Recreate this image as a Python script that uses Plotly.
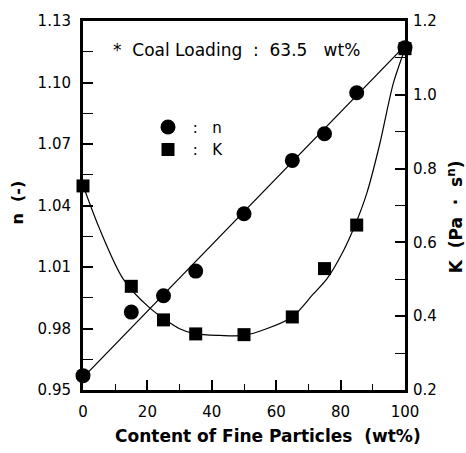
import plotly.graph_objects as go

# ---- data ----
fine_content = [0, 15, 25, 35, 50, 65, 75, 85, 100]
n_values = [0.957, 0.988, 0.996, 1.008, 1.036, 1.062, 1.075, 1.095, 1.117]
K_values = [0.753, 0.481, 0.390, 0.352, 0.350, 0.398, 0.529, 0.647, 1.125]

# fitted lines
n_fit_x = [0, 100]
n_fit = [0.956, 1.118]
K_fit_x = [0, 5, 12.4, 20.8, 30, 35, 42.5, 50, 57, 65, 71.4, 75.8, 80.7, 84.5, 88.2, 92.2, 96.3, 100]
K_fit = [0.755, 0.64, 0.502, 0.422, 0.366, 0.352, 0.348, 0.348, 0.366, 0.398, 0.459, 0.502,
         0.574, 0.647, 0.735, 0.868, 1.029, 1.125]

x_ticks = [0, 20, 40, 60, 80, 100]
n_ticks = [0.95, 0.98, 1.01, 1.04, 1.07, 1.10, 1.13]
K_ticks = [0.2, 0.4, 0.6, 0.8, 1.0, 1.2]

FONT = "DejaVu Sans"
NB = "\u00a0"

fig = go.Figure()
fig.add_trace(go.Scatter(x=n_fit_x, y=n_fit, mode="lines", line=dict(color="black", width=1.2),
                         showlegend=False, hoverinfo="skip"))
fig.add_trace(go.Scatter(x=K_fit_x, y=K_fit, mode="lines", line=dict(color="black", width=1.2, shape="spline", smoothing=0.8),
                         yaxis="y2", showlegend=False, hoverinfo="skip"))
fig.add_trace(go.Scatter(x=fine_content, y=n_values, mode="markers", name=NB + ":" + NB * 3 + "n",
                         marker=dict(symbol="circle", size=15, color="black"), cliponaxis=False))
fig.add_trace(go.Scatter(x=fine_content, y=K_values, mode="markers", name=NB + ":" + NB * 3 + "K",
                         marker=dict(symbol="square", size=13, color="black"), yaxis="y2", cliponaxis=False))

tickfont = dict(family=FONT, size=15, color="black")
fig.update_layout(
    width=466, height=453,
    margin=dict(l=83, r=61, t=16, b=63),
    paper_bgcolor="white", plot_bgcolor="white",
    font=dict(family=FONT, color="black"),
    xaxis=dict(range=[0, 100], tickvals=x_ticks, ticks="inside", ticklen=10, tickwidth=1.5, tickcolor="black",
               minor=dict(dtick=10, tick0=0, ticks="inside", ticklen=6, tickwidth=1.2, tickcolor="black"),
               showline=True, linewidth=3, linecolor="black", mirror=True, showgrid=False, zeroline=False,
               tickfont=tickfont, ticklabelstandoff=6),
    yaxis=dict(range=[0.95, 1.13], tickvals=n_ticks, tickformat=".2f", ticks="inside", ticklen=10, tickwidth=1.5,
               tickcolor="black",
               minor=dict(dtick=0.015, tick0=0.95, ticks="inside", ticklen=10, tickwidth=1.2, tickcolor="black"),
               showline=True, linewidth=3, linecolor="black", showgrid=False, zeroline=False,
               tickfont=tickfont, ticklabelstandoff=6),
    yaxis2=dict(range=[0.2, 1.2], tickvals=K_ticks, tickformat=".1f", overlaying="y", side="right",
                ticks="inside", ticklen=10, tickwidth=1.5, tickcolor="black",
                minor=dict(dtick=0.1, tick0=0.2, ticks="inside", ticklen=10, tickwidth=1.2, tickcolor="black"),
                showline=True, linewidth=3, linecolor="black", showgrid=False, zeroline=False,
                tickfont=tickfont, ticklabelstandoff=2),
    legend=dict(x=(148 - 83) / 322, y=(453 - 63 - 107) / 374, xanchor="left", yanchor="top",
                bgcolor="rgba(0,0,0,0)", font=dict(family=FONT, size=15, color="black"),
                itemsizing="trace", tracegroupgap=0),
    showlegend=True,
)

def px(x):
    return (x - 83) / 322
def py(y):
    return (390 - y) / 374

fig.add_annotation(text="*" + NB * 2 + "Coal Loading" + NB * 2 + ":" + NB * 2 + "63.5" + NB * 3 + "wt%",
                   xref="paper", yref="paper", x=px(111), y=py(45),
                   xanchor="left", yanchor="middle", showarrow=False,
                   font=dict(family=FONT, size=17, color="black"))
fig.add_annotation(text="<b>Content of Fine Particles" + NB * 2 + "(wt%)</b>", xref="paper", yref="paper",
                   x=px(268), y=py(437), xanchor="center", yanchor="middle", showarrow=False,
                   font=dict(family=FONT, size=17, color="black"))
fig.add_annotation(text="<b>n" + NB * 2 + "(-)</b>", xref="paper", yref="paper", x=px(18), y=py(200),
                   xanchor="center", yanchor="middle", textangle=-90, showarrow=False,
                   font=dict(family=FONT, size=16, color="black"))
fig.add_annotation(text="<b>K" + NB * 2 + "(Pa" + NB * 2 + "\u00b7" + NB * 2 + "s<sup>n</sup>)</b>",
                   xref="paper", yref="paper",
                   x=px(455), y=py(215), xanchor="center", yanchor="middle", textangle=-90, showarrow=False,
                   font=dict(family=FONT, size=17, color="black"))

fig.write_html("out.html")
